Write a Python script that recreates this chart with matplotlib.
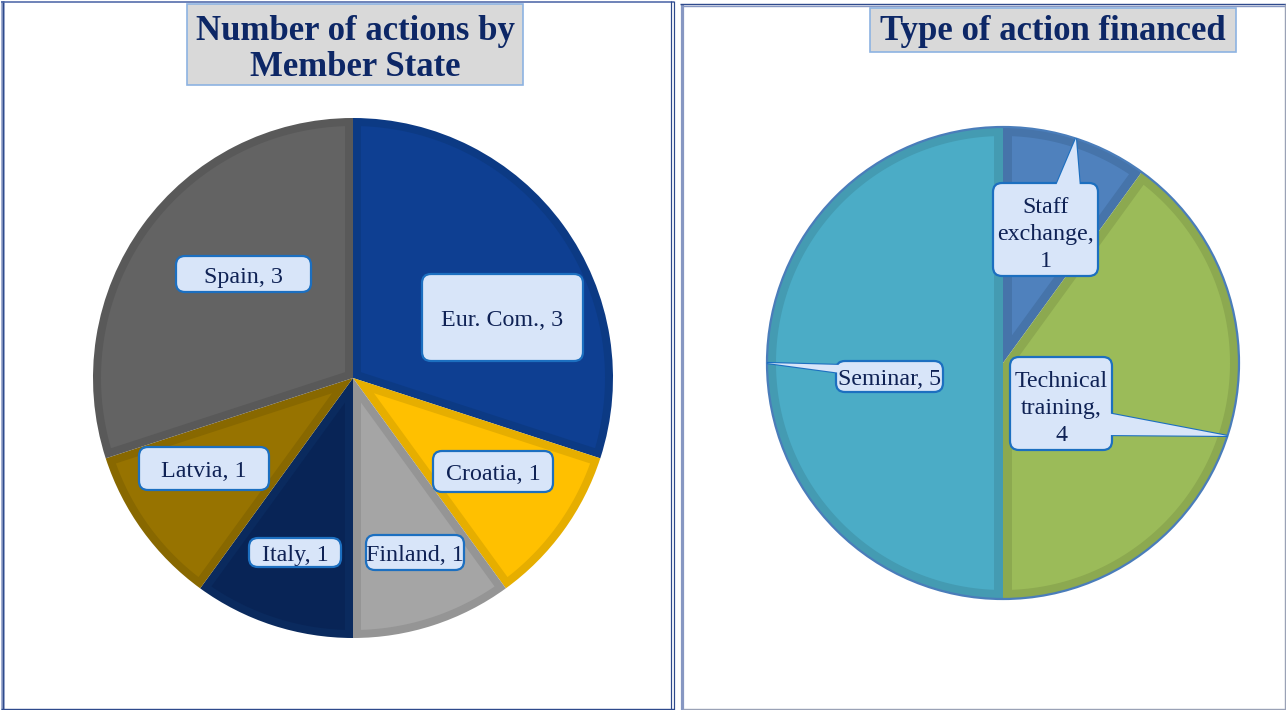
import matplotlib
matplotlib.use("Agg")
import matplotlib.pyplot as plt
from matplotlib.patches import FancyBboxPatch, Polygon, Rectangle, Circle
import numpy as np

# ---------------- data ----------------
left_title = "Number of actions by\nMember State"
left_labels = ["Eur. Com.", "Croatia", "Finland", "Italy", "Latvia", "Spain"]
left_values = [3, 1, 1, 1, 1, 3]
left_colors = ["#0E3F92", "#FFC000", "#A5A5A5", "#082456", "#977300", "#636363"]
left_bands = ["#0C3A84", "#E6AE00", "#959595", "#0A2A5E", "#886800", "#595959"]

right_title = "Type of action financed"
right_labels = ["Staff\nexchange", "Technical\ntraining", "Seminar"]
right_values = [1, 4, 5]
right_colors = ["#4F81BD", "#9BBB59", "#4BACC6"]
right_bands = ["#4674AA", "#8CA950", "#449BB2"]

# ---------------- layout ----------------
W, H = 1286, 710
fig = plt.figure(figsize=(W / 100, H / 100), dpi=100)
ax = fig.add_axes([0, 0, 1, 1])


def Y(y):
    return H - y


SERIF = ["Liberation Serif", "DejaVu Serif"]
TXT = "#0F2255"
BOX_FC = "#D8E5F9"
BOX_EC = "#1C6FC0"
LFS = 17.3
PX = 72 / 100  # points per pixel


def inset_polygon(w, d):
    cx, cy = w.center
    r = w.r
    t1, t2 = np.deg2rad(min(w.theta1, w.theta2)), np.deg2rad(max(w.theta1, w.theta2))
    h = (t2 - t1) / 2
    mid = (t1 + t2) / 2
    a = d / np.sin(h)
    apex = (cx + a * np.cos(mid), cy + a * np.sin(mid))
    delta = np.arcsin(d / (r - d))
    ang = np.linspace(t1 + delta, t2 - delta, 200)
    arc = np.column_stack([cx + (r - d) * np.cos(ang), cy + (r - d) * np.sin(ang)])
    return np.vstack([[apex], arc])


def draw_pie(values, colors, bands, cx, cy, r, band):
    wedges, _ = ax.pie(values, colors=bands, startangle=90, counterclock=False,
                       center=(cx, Y(cy)), radius=r,
                       wedgeprops=dict(linewidth=0))
    for w, c in zip(wedges, colors):
        ax.add_patch(Polygon(inset_polygon(w, band), closed=True, fc=c,
                             ec="none", zorder=w.get_zorder() + 0.1))
    return wedges


def label_box(x0, y0, x1, y1, text, tx=None, ty=None, fs=LFS, ls=1.1, z=5):
    box = FancyBboxPatch((x0, Y(y1)), x1 - x0, y1 - y0,
                         boxstyle="round,pad=0,rounding_size=9",
                         fc=BOX_FC, ec=BOX_EC, lw=1.6, zorder=z)
    ax.add_patch(box)
    if tx is None:
        tx = (x0 + x1) / 2
    if ty is None:
        ty = (y0 + y1) / 2 + 3
    ax.text(tx, Y(ty), text, ha="center", va="center", fontsize=fs,
            family=SERIF, color=TXT, linespacing=ls, zorder=z + 2)


def callout(base1, base2, tip, z=5):
    pts = [(base1[0], Y(base1[1])), tip, (base2[0], Y(base2[1]))]
    ax.add_patch(Polygon(pts, closed=True, fc=BOX_FC, ec=BOX_EC, lw=1.6,
                         joinstyle="miter", zorder=z - 0.5))
    ax.add_patch(Polygon(pts, closed=True, fc=BOX_FC, ec="none", zorder=z + 1))


def mid_point(w, cx, cy, r):
    a = np.deg2rad((w.theta1 + w.theta2) / 2)
    return (cx + r * np.cos(a), Y(cy) + r * np.sin(a))


def hline(y, x0, x1, c, wpx):
    ax.plot([x0, x1], [Y(y), Y(y)], color=c, lw=wpx * PX, zorder=1,
            solid_capstyle="butt")


def vline(x, y0, y1, c, wpx):
    ax.plot([x, x], [Y(y0), Y(y1)], color=c, lw=wpx * PX, zorder=1,
            solid_capstyle="butt")


# panel borders
DARK = "#2E4A8C"
LIGHT = "#8797C2"
GREY = "#9AA2B6"
# left panel
vline(2.5, 1.2, 709.5, LIGHT, 3.5)
vline(2.5, 1.2, 709.5, DARK, 1.2)
hline(2.0, 0.8, 674.4, "#4E68A8", 1.6)
vline(671.0, 1.2, 709.5, DARK, 1.2)
vline(673.8, 1.2, 709.5, DARK, 1.2)
hline(708.8, 0.8, 674.4, DARK, 1.4)
# right panel
vline(681.5, 3.6, 709.5, LIGHT, 3.2)
hline(4.3, 680, 1286, DARK, 1.4)
hline(6.2, 683, 1286, LIGHT, 1.4)
vline(1284.6, 4, 709.5, GREY, 1.4)
hline(708.8, 683, 1285.3, GREY, 1.4)

# ---------------- left pie ----------------
LCX, LCY, LR = 353, 378, 260
lw_ = draw_pie(left_values, left_colors, left_bands, LCX, LCY, LR, 8)

lboxes = [(422, 274, 583, 361), (433, 451, 553, 492), (366, 535, 464, 570),
          (249, 538, 341, 567), (139, 447, 269, 490), (176, 256, 311, 292)]
for lab, v, b in zip(left_labels, left_values, lboxes):
    label_box(*b, f"{lab}, {v}")

# left title
ax.add_patch(Rectangle((187, Y(85)), 336, 81, fc="#D9D9D9", ec="#8DB3E2",
                       lw=1.2, zorder=3))
ax.text(355, Y(49.5), left_title, ha="center", va="center", fontsize=25,
        fontweight="bold", family=SERIF, color="#0D2766", linespacing=1.1,
        zorder=4)

# ---------------- right pie ----------------
RCX, RCY, RR = 1003, 363, 236
rw = draw_pie(right_values, right_colors, right_bands, RCX, RCY, RR, 9)
ax.add_patch(Circle((RCX, Y(RCY)), RR, fill=False, ec="#4A7DBA", lw=1.6,
                    zorder=3))

rboxes = [(993, 183, 1098, 276), (1010, 357, 1112, 450), (836, 361, 943, 392)]
rbases = [((1055, 188), (1080, 188)), ((1107, 413), (1107, 435)),
          ((841, 365), (841, 373))]
for lab, v, b, bs, w in zip(right_labels, right_values, rboxes, rbases, rw):
    tip = mid_point(w, RCX, RCY, RR)
    callout(bs[0], bs[1], tip)
    if "\n" in lab:
        label_box(*b, f"{lab},\n{v}", ty=(b[1] + b[3]) / 2 + 5, ls=1.37)
    else:
        label_box(*b, f"{lab}, {v}")

# right title
ax.add_patch(Rectangle((870, Y(52)), 366, 44, fc="#D9D9D9", ec="#8DB3E2",
                       lw=1.2, zorder=3))
ax.text(1053, Y(32), right_title, ha="center", va="center", fontsize=25,
        fontweight="bold", family=SERIF, color="#0D2766", zorder=4)

ax.set_xlim(0, W)
ax.set_ylim(0, H)
ax.set_aspect("equal")
ax.axis("off")
fig.savefig("out.png", dpi=100)
